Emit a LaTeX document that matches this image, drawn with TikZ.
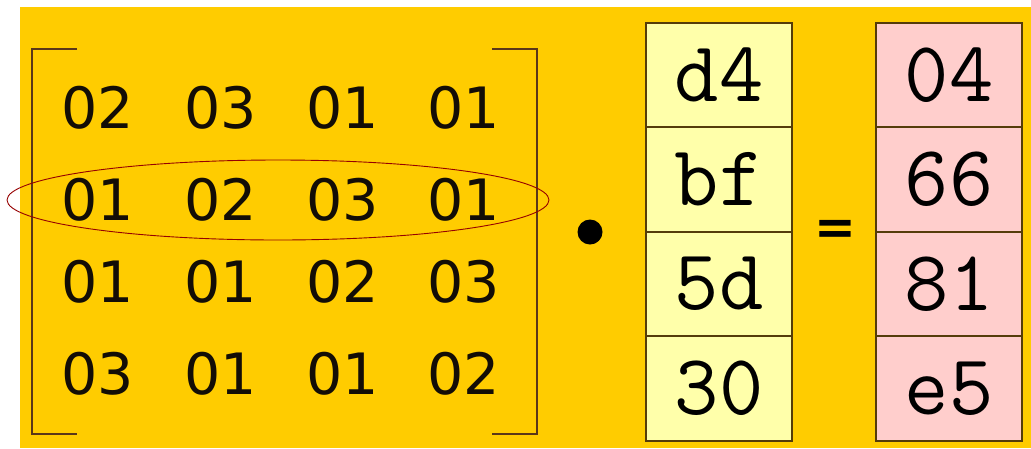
\documentclass[tikz,border=0pt]{standalone}
\usepackage{fontspec}
\setmainfont{DejaVu Sans}
\usetikzlibrary{positioning}
\definecolor{bgyellow}{RGB}{255,204,0}
\definecolor{vecfill}{RGB}{255,255,170}
\definecolor{resfill}{RGB}{255,206,204}
\definecolor{boxline}{RGB}{85,60,10}
\definecolor{bracketcol}{RGB}{90,55,25}
\definecolor{ringcol}{RGB}{150,0,0}
\tikzset{node distance=0pt, auto,
  entry/.style={inner sep=0pt, text=black!90!brown, font=\fontsize{57}{57}\selectfont},
  cell/.style={draw=boxline, line width=1.7pt, inner sep=0pt, outer sep=0pt,
    minimum width=146pt, minimum height=104.5pt,
    font=\ttfamily\fontsize{86}{86}\selectfont},
  vec/.style={cell, fill=vecfill},
  res/.style={cell, fill=resfill},
  bracket/.style={draw=bracketcol, line width=2pt},
  ring/.style={draw=ringcol, line width=0.9pt}}

\begin{document}
\begin{tikzpicture}[x=1pt, y=-1pt]
      \useasboundingbox (0,0) rectangle (1031,448);
      \fill[bgyellow] (20,7) rectangle (1031,448);

      % brackets
      \draw[bracket] (77,49) -| (32,434) -- (77,434);
      \draw[bracket] (492,49) -| (537,434) -- (492,434);

      % matrix entries
      \foreach \row/\y/\a/\b/\c/\d in {1/108/02/03/01/01, 2/200/01/02/03/01,
                                     3/282/01/01/02/03, 4/374/03/01/01/02} {
        \node[entry] (m\row-1) at (98,\y) {\a};
        \node[entry] (m\row-2) at (221,\y) {\b};
        \node[entry] (m\row-3) at (343,\y) {\c};
        \node[entry] (m\row-4) at (464,\y) {\d};
      }

      % highlighted row
      \draw[ring] (m2-1.center) ++(180,0) ellipse (271 and 40);

      \node[circle, fill=black, inner sep=0pt, minimum size=25pt] (dot) at (590,232) {};

      % column vector
      \node[vec] (v1) at (719,75) {d4};
      \node[vec] (v2) [below=of v1] {bf};
      \node[vec] (v3) [below=of v2] {5d};
      \node[vec] (v4) [below=of v3] {30};

      \node[inner sep=0pt, font=\bfseries\fontsize{50}{50}\selectfont] (eq) at (835,232) {=};

      % result
      \node[res] (r1) at (949,75) {04};
      \node[res] (r2) [below=of r1] {66};
      \node[res] (r3) [below=of r2] {81};
      \node[res] (r4) [below=of r3] {e5};
    \end{tikzpicture}
\end{document}
